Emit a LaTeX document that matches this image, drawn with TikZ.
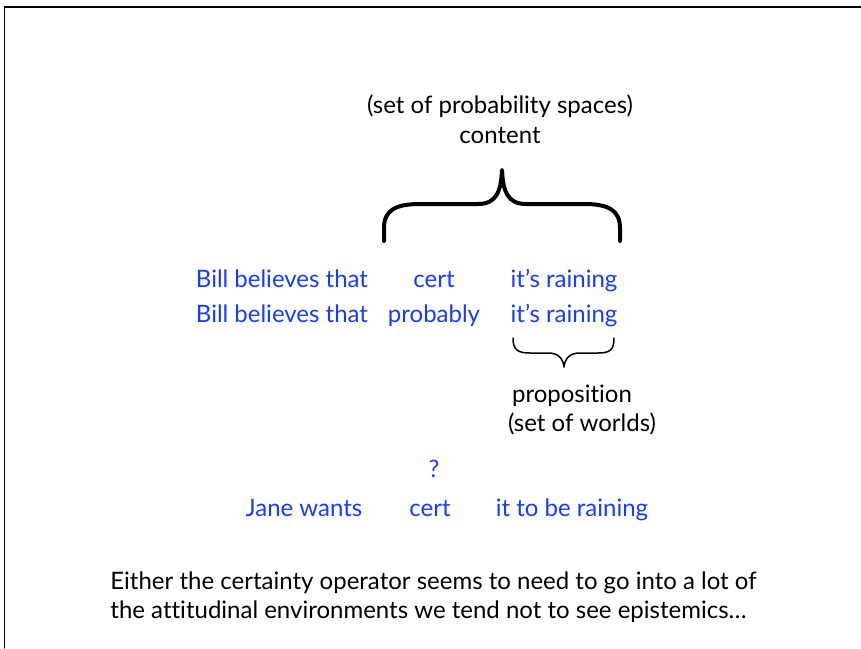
\documentclass[tikz,border=0pt]{standalone}
\usepackage{fontspec}
\setmainfont{Lato}[Ligatures={NoCommon}]
\usepackage{tikz}
\usetikzlibrary{positioning}
\usetikzlibrary{calc}
\definecolor{kblue}{RGB}{25,60,250}
\tikzset{txt/.style={anchor=base, inner sep=0pt, font=\fontsize{12}{14}\selectfont},
  blu/.style={txt, text=kblue}}

\begin{document}
\begin{tikzpicture}[x=0.5pt, y=-0.5pt, line cap=round, line join=round]
\useasboundingbox (0,0) rectangle (861,648);
\draw[line width=0.6pt] (4.5,648) -- (4.5,7) -- (861,7);
\node (probset) at (500,113) [txt] {(set of probability spaces)};
\node (content) at (500,143) [txt] {content};
\node (bill1) at (282,287) [blu] {Bill believes that};
\node (cert1) at (434,287) [blu] {cert};
\node (rain1) at (564,287) [blu] {it’s raining};
\node (bill2) at (282,322) [blu] {Bill believes that};
\node (prob2) at (434,322) [blu] {probably};
\node (rain2) at (564,322) [blu] {it’s raining};
\node (prop) at (572,402) [txt] {proposition};
\node (worlds) at (582,431) [txt] {(set of worlds)};
\node (qmark) at (434,477) [blu] {?};
\node (jane) at (304,516) [blu] {Jane wants};
\node (cert3) at (430,516) [blu] {cert};
\node (rain3) at (572,516) [blu] {it to be raining};
\node (note1) at (110,589) [txt, anchor=base west] {Either the certainty operator seems to need to go into a lot of};
\node (note2) at (110,618) [txt, anchor=base west] {the attitudinal environments we tend not to see epistemics\ldots};
% braces
\draw[line width=2pt] (384,241) -- (384,228) .. controls (384,210) and (396,204) .. (420,204)
  -- (478,204) .. controls (496,204) and (501,192) .. (502,170)
  .. controls (503,192) and (508,204) .. (526,204) -- (584,204)
  .. controls (608,204) and (620,210) .. (620,228) -- (620,241);
\draw[line width=0.75pt] (513,338) .. controls (513,350) and (518,353) .. (530,353) -- (548,353)
  .. controls (558,353) and (563,358) .. (564,367)
  .. controls (565,358) and (570,353) .. (580,353) -- (598,353)
  .. controls (610,353) and (614,350) .. (614,338);
\end{tikzpicture}
\end{document}
